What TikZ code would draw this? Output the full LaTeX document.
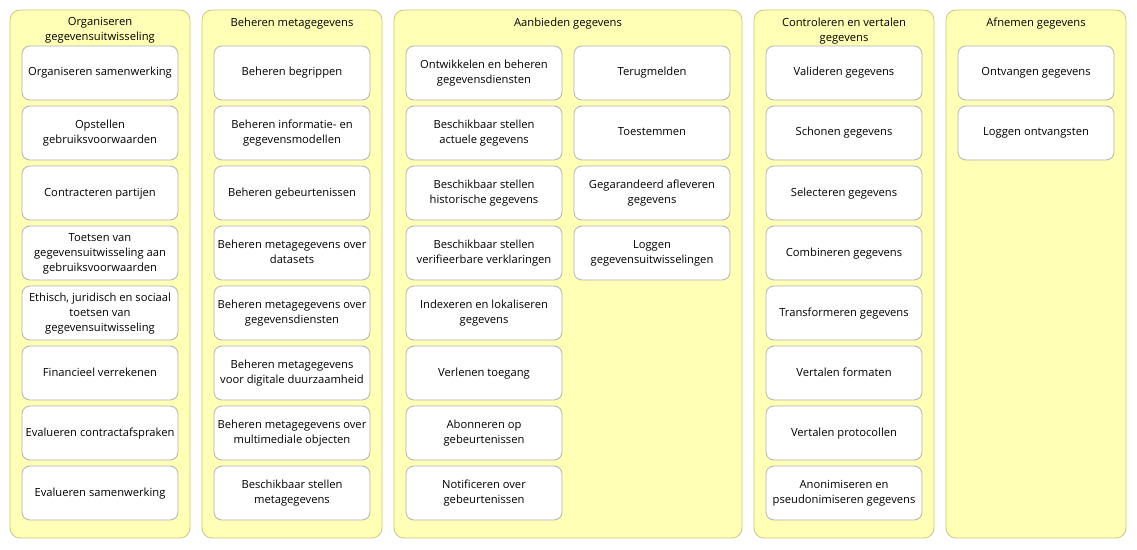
\documentclass[tikz,border=0pt]{standalone}
\usepackage{fontspec}
\setmainfont{Open Sans}
\usetikzlibrary{positioning}
\definecolor{lanefill}{RGB}{255,255,181}
\definecolor{laneline}{RGB}{200,200,128}
\definecolor{taskline}{RGB}{178,178,178}
\tikzset{
  lane/.style={draw=laneline,fill=lanefill,rounded corners=7.5pt,line width=.6pt},
  lanetitle/.style={align=center,anchor=north,inner sep=0pt,font=\fontsize{8.4}{11.25}\selectfont},
  task/.style={draw=taskline,fill=white,rounded corners=6pt,minimum width=117pt,
    minimum height=40.5pt,inner sep=0pt,line width=.6pt,
    font=\fontsize{8.4}{11.25}\selectfont},
}
\newcommand{\tasktext}[1]{\raisebox{-2.5pt}{\begin{tabular}{@{}c@{}}#1\end{tabular}}}
% lane: name, left, right, title
\newcommand{\lane}[4]{%
  \draw[lane] (#2,10) rectangle (#3,538);
  \node[lanetitle] (#1) at ({(#2+#3)/2},17.5) {#4};
}
% column of tasks: prefix, x centre, list
\newcommand{\taskcolumn}[3]{%
  \foreach \txt [count=\i] in {#3}{
    \node[task] (#1-\i) at (#2,{73+60*(\i-1)}) {\tasktext{\txt}};
  }
}

\begin{document}
\begin{tikzpicture}[x=.75pt,y=-.75pt]
  \useasboundingbox (0,0) rectangle (1137,549);
  \lane{org}{10}{190}{Organiseren\\gegevensuitwisseling}
  \lane{meta}{202}{382}{Beheren metagegevens}
  \lane{aanb}{394}{742}{Aanbieden gegevens}
  \lane{ctrl}{754}{934}{Controleren en vertalen\\gegevens}
  \lane{afn}{946}{1126}{Afnemen gegevens}

  \taskcolumn{org}{100}{Organiseren samenwerking,
    Opstellen\\gebruiksvoorwaarden,
    Contracteren partijen,
    Toetsen van\\gegevensuitwisseling aan\\gebruiksvoorwaarden,
    {Ethisch, juridisch en sociaal\\toetsen van\\gegevensuitwisseling},
    Financieel verrekenen,
    Evalueren contractafspraken,
    Evalueren samenwerking}

  \taskcolumn{meta}{292}{Beheren begrippen,
    Beheren informatie- en\\gegevensmodellen,
    Beheren gebeurtenissen,
    Beheren metagegevens over\\datasets,
    Beheren metagegevens over\\gegevensdiensten,
    Beheren metagegevens\\voor digitale duurzaamheid,
    Beheren metagegevens over\\multimediale objecten,
    Beschikbaar stellen\\metagegevens}

  \taskcolumn{aanbl}{484}{Ontwikkelen en beheren\\gegevensdiensten,
    Beschikbaar stellen\\actuele gegevens,
    Beschikbaar stellen\\historische gegevens,
    Beschikbaar stellen\\verifieerbare verklaringen,
    Indexeren en lokaliseren\\gegevens,
    Verlenen toegang,
    Abonneren op\\gebeurtenissen,
    Notificeren over\\gebeurtenissen}

  \taskcolumn{aanbr}{652}{Terugmelden,
    Toestemmen,
    Gegarandeerd afleveren\\gegevens,
    Loggen\\gegevensuitwisselingen}

  \taskcolumn{ctrl}{844}{Valideren gegevens,
    Schonen gegevens,
    Selecteren gegevens,
    Combineren gegevens,
    Transformeren gegevens,
    Vertalen formaten,
    Vertalen protocollen,
    Anonimiseren en\\pseudonimiseren gegevens}

  \taskcolumn{afn}{1036}{Ontvangen gegevens,
    Loggen ontvangsten}
\end{tikzpicture}
\end{document}
